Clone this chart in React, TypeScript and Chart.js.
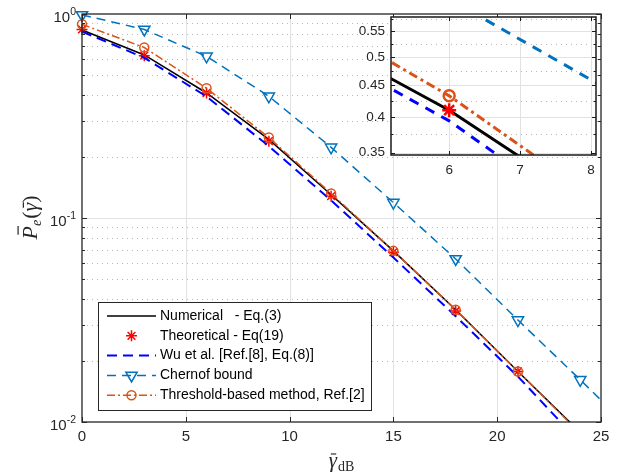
import React, { useEffect, useRef } from "react";
import { Chart, registerables } from "chart.js";

Chart.register(...registerables);

// ---------------- data ----------------
const snrDb = [0, 3, 6, 9, 12, 15, 18, 21, 24];
const chernoffSnrDb = [0, 3, 6, 9, 12, 15, 18, 21, 24, 25];
const numericalPe = [0.835, 0.63, 0.41, 0.243, 0.13, 0.069, 0.0355, 0.0177, 0.0089];
const theoreticalPe = [0.84, 0.625, 0.41, 0.238, 0.128, 0.068, 0.035, 0.0177, 0.0088];
const wuPe = [0.82, 0.61, 0.394, 0.225, 0.122, 0.064, 0.033, 0.0167, 0.0079];
const chernoffPe = [0.99, 0.84, 0.62, 0.395, 0.222, 0.119, 0.063, 0.0316, 0.0161, 0.0128];
const thresholdPe = [0.89, 0.685, 0.4325, 0.248, 0.132, 0.069, 0.0355, 0.0177, 0.0088];

const xTicks = [0, 5, 10, 15, 20, 25];
const xTickLabels = ["0", "5", "10", "15", "20", "25"];
const yDecadeTicks = [1, 0.1, 0.01];
const yDecadeExponents = ["0", "-1", "-2"];
const insetXTicks = [6, 7, 8];
const insetXTickLabels = ["6", "7", "8"];
const insetYTicks = [0.35, 0.4, 0.45, 0.5, 0.55];
const insetYTickLabels = ["0.35", "0.4", "0.45", "0.5", "0.55"];
const insetYMinorTicks = [0.375, 0.425, 0.475, 0.525, 0.575];
const legendLabels = [
  "Numerical   - Eq.(3)",
  "Theoretical - Eq(19)",
  "Wu et al. [Ref.[8], Eq.(8)]",
  "Chernof bound",
  "Threshold-based method, Ref.[2]",
];

// ---------------- styles ----------------
const BLACK = "#000000";
const RED = "#ff0000";
const BLUE = "#0000ff";
const MBLUE = "#0072BD";
const ORANGE = "#D95319";
const AXIS = "#262626";
const FONT = '"Liberation Sans", Arial, Helvetica, sans-serif';
const SERIF = '"Liberation Serif", "DejaVu Serif", "Times New Roman", serif';

const pts = (xs: number[], ys: number[]) => ys.map((y, i) => ({ x: xs[i], y }));

function drawMarker(ctx: CanvasRenderingContext2D, kind: string, x: number, y: number, r: number, color: string, lw: number) {
  ctx.save();
  ctx.strokeStyle = color;
  ctx.lineWidth = lw;
  ctx.setLineDash([]);
  ctx.beginPath();
  if (kind === "star") {
    for (let k = 0; k < 4; k++) {
      const a = (k * Math.PI) / 4;
      ctx.moveTo(x - r * Math.cos(a), y - r * Math.sin(a));
      ctx.lineTo(x + r * Math.cos(a), y + r * Math.sin(a));
    }
  } else if (kind === "circle") {
    ctx.arc(x, y, r, 0, Math.PI * 2);
  } else if (kind === "triangleDown") {
    for (let k = 0; k < 3; k++) {
      const a = Math.PI + (k * 2 * Math.PI) / 3;
      const px = x + Math.sin(a) * r;
      const py = y - Math.cos(a) * r;
      if (k === 0) ctx.moveTo(px, py);
      else ctx.lineTo(px, py);
    }
    ctx.closePath();
  }
  ctx.stroke();
  ctx.restore();
}

const legendStyles = [
  { color: BLACK, width: 1.5, dash: [] as number[], marker: "", mr: 0 },
  { color: RED, width: 0, dash: [] as number[], marker: "star", mr: 5.5 },
  { color: BLUE, width: 2, dash: [10, 6], marker: "", mr: 0 },
  { color: MBLUE, width: 1.5, dash: [9, 6], marker: "triangleDown", mr: 6.5 },
  { color: ORANGE, width: 1.5, dash: [8, 3, 2, 3], marker: "circle", mr: 4.5 },
];

function hLine(ctx: CanvasRenderingContext2D, x1: number, x2: number, y: number) {
  ctx.beginPath();
  ctx.moveTo(x1, y);
  ctx.lineTo(x2, y);
  ctx.stroke();
}
function vLine(ctx: CanvasRenderingContext2D, x: number, y1: number, y2: number) {
  ctx.beginPath();
  ctx.moveTo(x, y1);
  ctx.lineTo(x, y2);
  ctx.stroke();
}

// draws a glyph then a short overbar above it (the bar of a LaTeX \bar)
function barredText(ctx: CanvasRenderingContext2D, t: string, x: number, y: number, size: number, shift: number, height: number) {
  ctx.fillText(t, x, y);
  const w = ctx.measureText(t).width;
  ctx.save();
  ctx.strokeStyle = ctx.fillStyle as string;
  ctx.lineWidth = Math.max(1, size * 0.055);
  const top = y - size * height;
  hLine(ctx, x + w * 0.2 + shift, x + w * 0.85 + shift, top);
  ctx.restore();
  return w;
}

const mainDecor = {
  id: "mainDecor",
  beforeDatasetsDraw(chart: any) {
    const { ctx, chartArea: a, scales } = chart;
    const xs = scales.x;
    const ys = scales.y;
    ctx.save();
    ctx.lineWidth = 1;
    ctx.strokeStyle = "#b8b8b8";
    ctx.setLineDash([1, 4]);
    [0.01, 0.1].forEach((d) => {
      for (let k = 2; k <= 9; k++) {
        const py = Math.round(ys.getPixelForValue(k * d)) + 0.5;
        hLine(ctx, a.left, a.right, py);
      }
    });
    ctx.setLineDash([]);
    ctx.strokeStyle = "#e2e2e2";
    yDecadeTicks.forEach((v) => {
      const py = Math.round(ys.getPixelForValue(v)) + 0.5;
      if (py > a.top + 1 && py < a.bottom - 1) hLine(ctx, a.left, a.right, py);
    });
    xTicks.forEach((v) => {
      const px = Math.round(xs.getPixelForValue(v)) + 0.5;
      if (px > a.left + 1 && px < a.right - 1) vLine(ctx, px, a.top, a.bottom);
    });
    ctx.restore();
  },
  afterDatasetsDraw(chart: any) {
    const { ctx, chartArea: a, scales } = chart;
    const xs = scales.x;
    const ys = scales.y;
    ctx.save();
    ctx.strokeStyle = AXIS;
    ctx.lineWidth = 1.3;
    ctx.setLineDash([]);
    ctx.strokeRect(a.left, a.top, a.right - a.left, a.bottom - a.top);
    ctx.lineWidth = 1;
    xTicks.forEach((v) => {
      const px = Math.round(xs.getPixelForValue(v)) + 0.5;
      vLine(ctx, px, a.bottom, a.bottom - 5);
      vLine(ctx, px, a.top, a.top + 5);
    });
    [0.01, 0.1].forEach((d) => {
      for (let k = 1; k <= 10; k++) {
        const py = Math.round(ys.getPixelForValue(k * d)) + 0.5;
        const len = k === 1 || k === 10 ? 5 : 3;
        hLine(ctx, a.left, a.left + len, py);
        hLine(ctx, a.right, a.right - len, py);
      }
    });
    // x tick labels
    ctx.fillStyle = AXIS;
    ctx.font = `15px ${FONT}`;
    ctx.textAlign = "center";
    ctx.textBaseline = "middle";
    xTicks.forEach((v, i) => {
      ctx.fillText(xTickLabels[i], xs.getPixelForValue(v), a.bottom + 15);
    });
    // y tick labels 10^n
    yDecadeTicks.forEach((v, i) => {
      const py = ys.getPixelForValue(v);
      const right = a.left - 6;
      ctx.font = `10.5px ${FONT}`;
      const we = ctx.measureText(yDecadeExponents[i]).width;
      ctx.textAlign = "right";
      ctx.fillText(yDecadeExponents[i], right, py - 1.5);
      ctx.font = `15px ${FONT}`;
      ctx.fillText("10", right - we, py + 4);
    });
    // x title
    ctx.fillStyle = "#262626";
    ctx.textAlign = "left";
    ctx.textBaseline = "alphabetic";
    ctx.font = `italic 21px ${SERIF}`;
    const wg = ctx.measureText("\u03B3").width;
    ctx.font = `14px ${SERIF}`;
    const wdb = ctx.measureText("dB").width;
    const cx = (a.left + a.right) / 2;
    const sx = cx - (wg + wdb + 1) / 2;
    ctx.font = `italic 21px ${SERIF}`;
    barredText(ctx, "\u03B3", sx, 467, 21, 0.5, 0.62);
    ctx.font = `14px ${SERIF}`;
    ctx.fillText("dB", sx + wg + 1, 471);
    // y title (rotated)
    ctx.save();
    ctx.translate(37, (a.top + a.bottom) / 2);
    ctx.rotate(-Math.PI / 2);
    const parts: [string, string, number, number][] = [
      ["P", `italic 22px ${SERIF}`, 0, 0.86],
      ["e", `italic 14px ${SERIF}`, 4, 0],
      ["(", `22px ${SERIF}`, 0, 0],
      ["\u03B3", `italic 22px ${SERIF}`, 0, 0.62],
      [")", `22px ${SERIF}`, 0, 0],
    ];
    let tot = 0;
    const ws = parts.map(([t, f]) => {
      ctx.font = f;
      const w = ctx.measureText(t).width;
      tot += w;
      return w;
    });
    let px = -tot / 2;
    parts.forEach(([t, f, dy, bar], i) => {
      ctx.font = f;
      if (bar > 0) barredText(ctx, t, px, dy, 22, 2, bar);
      else ctx.fillText(t, px, dy);
      px += ws[i] + (i === 1 ? 1 : 0);
    });
    ctx.restore();

    // legend
    const lx1 = 98.5, ly1 = 302.5, lx2 = 371.5, ly2 = 410.5;
    ctx.fillStyle = "#ffffff";
    ctx.fillRect(lx1, ly1, lx2 - lx1, ly2 - ly1);
    ctx.strokeStyle = AXIS;
    ctx.lineWidth = 1;
    ctx.strokeRect(lx1, ly1, lx2 - lx1, ly2 - ly1);
    legendLabels.forEach((lab, i) => {
      const y = 316 + i * 19.8;
      const st = legendStyles[i];
      if (st.width > 0) {
        ctx.save();
        ctx.strokeStyle = st.color;
        ctx.lineWidth = st.width;
        ctx.setLineDash(st.dash);
        hLine(ctx, 107, 156, y);
        ctx.restore();
      }
      if (st.marker) drawMarker(ctx, st.marker, 131.5, y, st.mr, st.color, 1.5);
      ctx.fillStyle = "#000";
      ctx.font = `14px ${FONT}`;
      ctx.textAlign = "left";
      ctx.textBaseline = "middle";
      ctx.fillText(lab, 160, y);
    });
    ctx.restore();
  },
};

const insetDecor = {
  id: "insetDecor",
  beforeDatasetsDraw(chart: any) {
    const { ctx, chartArea: a, scales } = chart;
    const xs = scales.x;
    const ys = scales.y;
    ctx.save();
    ctx.fillStyle = "#ffffff";
    ctx.fillRect(a.left, a.top, a.right - a.left, a.bottom - a.top);
    ctx.lineWidth = 1;
    ctx.strokeStyle = "#b8b8b8";
    ctx.setLineDash([1, 4]);
    insetYMinorTicks.forEach((v) => {
      const py = Math.round(ys.getPixelForValue(v)) + 0.5;
      if (py > a.top && py < a.bottom) hLine(ctx, a.left, a.right, py);
    });
    ctx.setLineDash([]);
    ctx.strokeStyle = "#e2e2e2";
    insetYTicks.forEach((v) => {
      const py = Math.round(ys.getPixelForValue(v)) + 0.5;
      if (py > a.top + 1 && py < a.bottom - 1) hLine(ctx, a.left, a.right, py);
    });
    insetXTicks.forEach((v) => {
      const px = Math.round(xs.getPixelForValue(v)) + 0.5;
      vLine(ctx, px, a.top, a.bottom);
    });
    ctx.restore();
  },
  afterDatasetsDraw(chart: any) {
    const { ctx, chartArea: a, scales } = chart;
    const xs = scales.x;
    const ys = scales.y;
    ctx.save();
    ctx.strokeStyle = "#1a1a1a";
    ctx.lineWidth = 1.5;
    ctx.strokeRect(a.left, a.top, a.right - a.left, a.bottom - a.top);
    ctx.lineWidth = 1;
    insetXTicks.forEach((v) => {
      const px = Math.round(xs.getPixelForValue(v)) + 0.5;
      vLine(ctx, px, a.bottom, a.bottom - 4);
      vLine(ctx, px, a.top, a.top + 4);
    });
    insetYTicks.forEach((v) => {
      const py = Math.round(ys.getPixelForValue(v)) + 0.5;
      hLine(ctx, a.left, a.left + 4, py);
      hLine(ctx, a.right, a.right - 4, py);
    });
    insetYMinorTicks.forEach((v) => {
      const py = Math.round(ys.getPixelForValue(v)) + 0.5;
      if (py > a.top && py < a.bottom) {
        hLine(ctx, a.left, a.left + 2.5, py);
        hLine(ctx, a.right, a.right - 2.5, py);
      }
    });
    ctx.fillStyle = AXIS;
    ctx.font = `13.5px ${FONT}`;
    ctx.textAlign = "right";
    ctx.textBaseline = "middle";
    insetYTicks.forEach((v, i) => {
      ctx.fillText(insetYTickLabels[i], a.left - 6, ys.getPixelForValue(v));
    });
    ctx.textAlign = "center";
    insetXTicks.forEach((v, i) => {
      ctx.fillText(insetXTickLabels[i], xs.getPixelForValue(v), a.bottom + 15);
    });
    ctx.restore();
  },
};

function buildDatasets(inset: boolean) {
  const clip = inset ? 0 : { left: 14, top: 14, right: 0, bottom: 0 };
  return [
    {
      label: legendLabels[0],
      data: pts(snrDb, numericalPe),
      showLine: true,
      borderColor: BLACK,
      borderWidth: inset ? 3 : 1.5,
      pointRadius: 0,
      order: 4,
      clip,
    },
    {
      label: legendLabels[1],
      data: pts(snrDb, theoreticalPe),
      showLine: false,
      pointStyle: "star",
      pointRadius: inset ? 7 : 5.5,
      pointBorderColor: RED,
      pointBackgroundColor: RED,
      pointBorderWidth: inset ? 2.5 : 1.5,
      borderColor: RED,
      order: 3,
      clip,
    },
    {
      label: legendLabels[2],
      data: pts(snrDb, wuPe),
      showLine: true,
      borderColor: BLUE,
      borderWidth: inset ? 3 : 2,
      borderDash: inset ? [10, 8] : [10, 6],
      pointRadius: 0,
      order: 2,
      clip,
    },
    {
      label: legendLabels[3],
      data: pts(chernoffSnrDb, chernoffPe),
      showLine: true,
      borderColor: MBLUE,
      borderWidth: inset ? 3 : 1.5,
      borderDash: inset ? [10, 8] : [9, 6],
      pointStyle: "triangle",
      pointRotation: 180,
      pointRadius: (c: any) => (c.dataIndex < snrDb.length ? 6.5 * (inset ? 1.2 : 1) : 0),
      pointBorderColor: MBLUE,
      pointBackgroundColor: "rgba(0,0,0,0)",
      pointBorderWidth: inset ? 2.5 : 1.5,
      order: 1,
      clip,
    },
    {
      label: legendLabels[4],
      data: pts(snrDb, thresholdPe),
      showLine: true,
      borderColor: ORANGE,
      borderWidth: inset ? 3 : 1.5,
      borderDash: inset ? [9, 4, 3, 4] : [8, 3, 2, 3],
      pointStyle: "circle",
      pointRadius: inset ? 5.5 : 4.5,
      pointBorderColor: ORANGE,
      pointBackgroundColor: "rgba(0,0,0,0)",
      pointBorderWidth: inset ? 2.5 : 1.5,
      order: 0,
      clip,
    },
  ];
}

export default function App() {
  const mainRef = useRef<HTMLCanvasElement>(null);
  const insetRef = useRef<HTMLCanvasElement>(null);

  useEffect(() => {
    const common = {
      responsive: false,
      maintainAspectRatio: false,
      devicePixelRatio: 1,
      animation: false as const,
      events: [] as any[],
      plugins: { legend: { display: false }, tooltip: { enabled: false }, title: { display: false } },
    };
    const main = new Chart(mainRef.current as HTMLCanvasElement, {
      type: "scatter",
      data: { datasets: buildDatasets(false) as any },
      options: {
        ...common,
        layout: { padding: { left: 82, top: 14, right: 20, bottom: 53 } },
        scales: {
          x: { type: "linear", min: 0, max: 25, display: false },
          y: { type: "logarithmic", min: 0.01, max: 1, display: false },
        },
      } as any,
      plugins: [mainDecor],
    });
    const inset = new Chart(insetRef.current as HTMLCanvasElement, {
      type: "scatter",
      data: { datasets: buildDatasets(true) as any },
      options: {
        ...common,
        layout: { padding: { left: 51, top: 17, right: 25, bottom: 30 } },
        scales: {
          x: { type: "linear", min: 5.18, max: 8.07, display: false },
          y: { type: "logarithmic", min: 0.347, max: 0.58, display: false },
        },
      } as any,
      plugins: [insetDecor],
    });
    return () => {
      main.destroy();
      inset.destroy();
    };
  }, []);

  return (
    <div style={{ position: "fixed", left: 0, top: 0, width: 621, height: 475, background: "#ffffff" }}>
      <canvas ref={mainRef} width={621} height={475} style={{ position: "absolute", left: 0, top: 0, width: 621, height: 475 }} />
      <canvas ref={insetRef} width={281} height={185} style={{ position: "absolute", left: 340, top: 0, width: 281, height: 185 }} />
    </div>
  );
}
